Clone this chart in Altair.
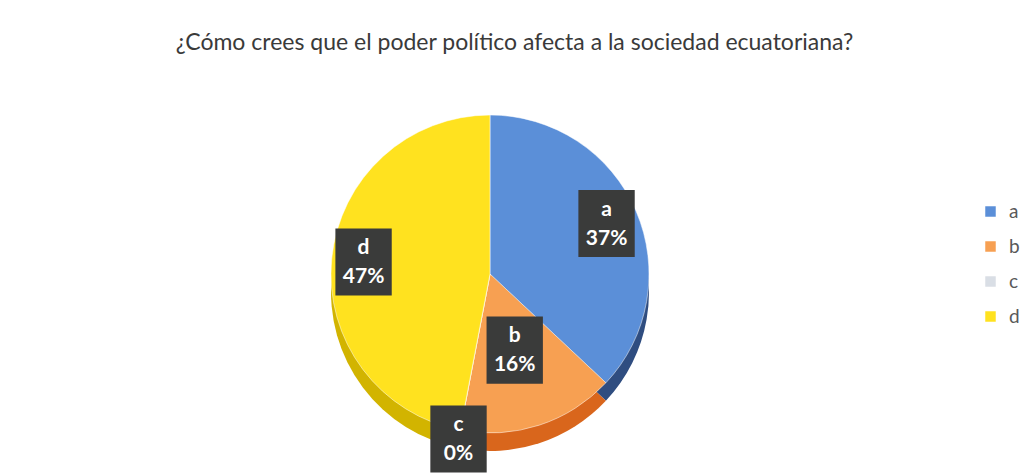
import altair as alt
import pandas as pd

# ---- data ----
categories = ["a", "b", "c", "d"]
percents = [37, 16, 0, 47]

top_colors = ["#5b8fd8", "#f7a052", "#d9dee5", "#ffe21f"]
side_colors = ["#2f4d80", "#d9661c", "#a9adb3", "#d2b400"]

df = pd.DataFrame({"cat": categories, "pct": percents})

CX, CY, R, DEPTH = 482, 207, 159, 18
FONT = "Lato"

base = alt.Chart(df)

side = base.mark_arc(radius=R, stroke=None).encode(
    theta=alt.Theta("pct:Q", stack=True),
    color=alt.Color("cat:N", scale=alt.Scale(domain=categories, range=side_colors), legend=None),
    order=alt.Order("cat:N"),
    x=alt.value(CX), y=alt.value(CY + DEPTH),
)

top = base.mark_arc(radius=R, stroke="white", strokeWidth=0.5).encode(
    theta=alt.Theta("pct:Q", stack=True),
    color=alt.Color(
        "cat:N",
        scale=alt.Scale(domain=categories, range=top_colors),
        legend=alt.Legend(
            title=None, orient="none", legendX=973, legendY=135,
            symbolType="square", symbolSize=110, symbolStrokeWidth=0,
            labelFont=FONT, labelFontSize=19, labelColor="#595959",
            rowPadding=15, symbolOffset=0, labelOffset=9,
        ),
    ),
    order=alt.Order("cat:N"),
    x=alt.value(CX), y=alt.value(CY),
)

lab = base.transform_window(
    cum="sum(pct)", frame=[None, 0], sort=[alt.SortField("cat")]
).transform_joinaggregate(
    total="sum(pct)"
).transform_calculate(
    ang="2*PI*(datum.cum - datum.pct/2)/datum.total",
    r="datum.pct == 0 ? 168 : (datum.pct < 20 ? 80 : 127)",
).transform_calculate(
    lx=f"{CX} + datum.r*sin(datum.ang)",
    ly=f"{CY} - datum.r*cos(datum.ang)",
    label="datum.cat + '|' + datum.pct + '%'",
)

boxes = lab.mark_point(
    shape="M-0.84,-1L0.84,-1L0.84,1L-0.84,1Z", size=4500,
    filled=True, color="#3a3b3a", opacity=1, strokeWidth=0,
).encode(
    x=alt.X("lx:Q", scale=None),
    y=alt.Y("ly:Q", scale=None),
)

texts = lab.mark_text(
    font=FONT, fontSize=21, fontWeight="bold", color="white",
    lineBreak="|", lineHeight=29, baseline="middle", dy=-14,
).encode(
    x=alt.X("lx:Q", scale=None),
    y=alt.Y("ly:Q", scale=None),
    text="label:N",
)

chart = alt.layer(side, top, boxes, texts).resolve_scale(color="independent").properties(
    width=1013, height=400,
    padding={"left": 0, "top": 24, "right": 0, "bottom": 0},
    title=alt.TitleParams(
        "¿Cómo crees que el poder político afecta a la sociedad ecuatoriana?",
        font=FONT, fontSize=23, fontWeight="normal", color="#3a3a3a",
        anchor="middle", offset=12,
    ),
).configure_view(stroke=None)

chart.save("out.html", embed_options={"renderer": "svg", "actions": False})
